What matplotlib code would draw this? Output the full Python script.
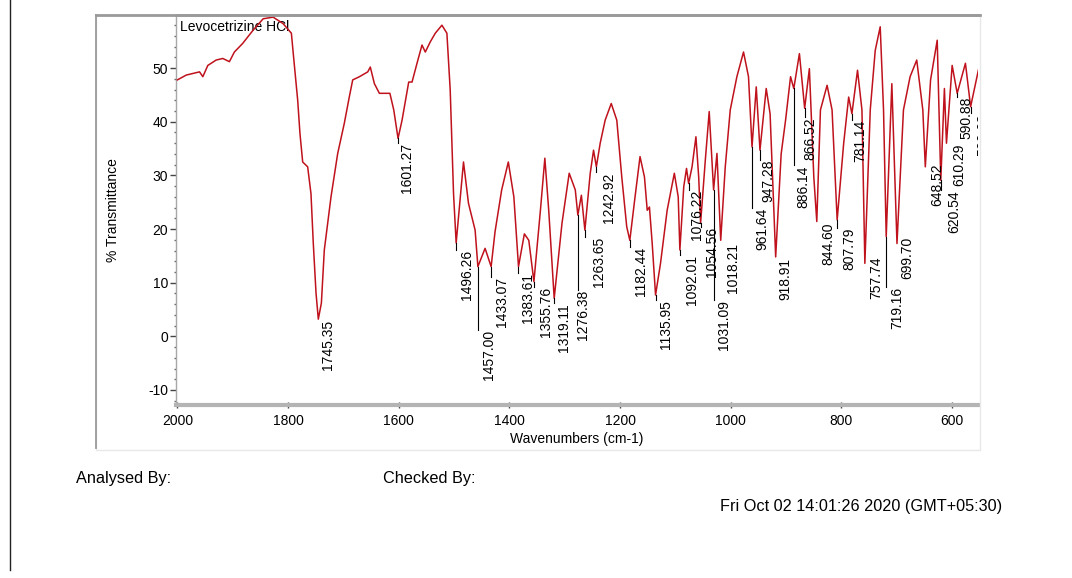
import numpy as np
import matplotlib
matplotlib.use("Agg")
import matplotlib.pyplot as plt
from matplotlib.ticker import MultipleLocator
from matplotlib.lines import Line2D
from matplotlib.patches import Rectangle
from matplotlib.transforms import offset_copy

plt.rcParams['font.family'] = ['Liberation Sans', 'DejaVu Sans']
plt.rcParams['axes.unicode_minus'] = False

# spectrum (cm-1, %T)
wavenumber = [2000, 1984, 1960, 1954, 1945, 1930, 1918, 1906, 1897, 1882, 1863,
              1845, 1827, 1809, 1794, 1790.6, 1782.6, 1778.5, 1773.6, 1764.6,
              1758.6, 1754.4, 1749.5, 1745.35, 1739.8, 1734.5, 1722.4, 1710.3,
              1698.4, 1689.4, 1683.2, 1671, 1656, 1651.4, 1644, 1635, 1616,
              1609, 1601.27, 1594, 1582, 1576, 1567, 1558, 1552, 1543, 1534, 1522,
              1513, 1507, 1501, 1496.26, 1492, 1483, 1474, 1462, 1457.00, 1444,
              1433.07, 1426, 1414, 1402, 1392, 1383.61, 1373, 1365, 1355.76, 1344,
              1336, 1329, 1319.11, 1305, 1292, 1281, 1276.38, 1270, 1263.65, 1254,
              1248, 1242.92, 1236, 1227, 1216, 1206, 1197, 1188, 1182.44, 1173,
              1164, 1156, 1151, 1147, 1142, 1135.95, 1127, 1115, 1102, 1095,
              1092.01, 1085, 1080, 1076.22, 1070, 1063, 1058, 1054.56, 1046, 1039,
              1031.09, 1025, 1018.21, 1010, 1001, 989, 977, 968, 961.64, 954,
              947.28, 936, 929, 918.91, 909, 901, 892, 886.14, 876, 866.52, 858,
              850, 844.60, 838, 826, 817, 807.79, 796, 787, 781.14, 771, 763,
              757.74, 748, 739, 730, 724, 719.16, 709, 699.70, 688, 676, 664, 653,
              648.52, 639, 627, 620.54, 614, 610.29, 600, 590.88, 576, 566.63, 550]
transmittance = [47.8, 48.7, 49.3, 48.4, 50.5, 51.5, 51.8, 51.2, 53.0, 54.6, 57.1,
                 59.2, 59.5, 58.3, 56.5, 52.7, 44.0, 37.8, 32.5, 31.6,
                 26.6, 17.3, 8.1, 3.2, 6.2, 16.1, 26.0, 34.1,
                 39.7, 44.6, 47.8, 48.4, 49.3, 50.2, 47.1, 45.3, 45.3,
                 42.2, 36.9, 40.3, 47.4, 47.4, 50.9, 54.3, 53.0, 54.9, 56.5, 58.0,
                 56.5, 45.9, 26.6, 17.4, 22.3, 32.5, 24.8, 19.8, 13.0, 16.4,
                 13.0, 19.5, 27.3, 32.5, 26.0, 13.0, 19.1, 17.9, 10.2, 23.5,
                 33.2, 23.5, 7.1, 21.1, 30.4, 27.3, 22.6, 26.3, 19.8, 30.4,
                 34.7, 31.6, 36.0, 40.3, 43.4, 40.3, 29.7, 20.4, 17.9, 26.0,
                 33.5, 29.7, 23.5, 24.1, 17.3, 7.7, 13.6, 23.5, 30.4, 26.0,
                 16.1, 27.9, 31.3, 28.5, 31.6, 37.2, 29.7, 21.1, 32.9, 41.9,
                 27.3, 34.1, 17.9, 31.6, 42.2, 48.4, 53.0, 48.4, 35.3, 46.5,
                 34.7, 46.2, 41.5, 14.8, 34.0, 40.3, 48.4, 46.2, 52.7, 42.5, 49.9,
                 29.7, 21.4, 42.2, 46.8, 42.2, 21.7, 36.0, 44.6, 41.5, 49.6, 42.2,
                 13.6, 42.2, 53.3, 57.7, 42.2, 18.6, 47.1, 17.3, 42.2, 48.4, 51.5, 42.2,
                 31.6, 47.8, 55.2, 29.1, 46.2, 36.0, 50.5, 45.3, 50.9, 42.8, 50.9]

# peak labels
peak_labels = ["1745.35", "1601.27", "1496.26", "1457.00", "1433.07", "1383.61",
               "1355.76", "1319.11", "1276.38", "1263.65", "1242.92", "1182.44",
               "1135.95", "1092.01", "1076.22", "1054.56", "1031.09", "1018.21",
               "961.64", "947.28", "918.91", "886.14", "866.52", "844.60",
               "807.79", "781.14", "757.74", "719.16", "699.70", "648.52",
               "620.54", "610.29", "590.88", "566.63"]
# where each label text starts (top, in %T) and its sideways shift (px)
label_top = [3.0, 36.0, 16.1, 1.2, 11.0, 11.8, 9.2, 6.2, 8.6, 18.5, 30.6, 16.6,
             6.8, 15.1, 27.3, 20.4, 6.8, 17.4, 23.9, 32.9, 14.6, 31.9, 40.9, 21.3,
             20.2, 40.3, 14.8, 9.2, 18.5, 32.3, 27.3, 36.0, 44.6, 41.6]
label_dx = [10, 9, 11, 11, 11, 9.5, 12, 10, 5, 14, 12.5, 11, 10.5, 12, 8.5, 11.5,
            10.5, 12, 10, 8, 10, 10, 5.5, 12, 12, 8, 11, 11, 10, 11.5, 13, 12.5,
            9, 12.5]

W, H = 1072, 578
fig = plt.figure(figsize=(W / 100, H / 100), dpi=100)
fig.patch.set_facecolor('white')

# outer frame and page edge
fig.add_artist(Rectangle((96 / W, 1 - 450 / H), (980 - 96) / W, (450 - 15) / H,
                         transform=fig.transFigure, fill=False,
                         edgecolor='#e8e8e8', lw=1))
fig.add_artist(Line2D([96 / W, 96 / W], [1 - 15 / H, 1 - 448 / H],
                      transform=fig.transFigure, color='#9a9a9a', lw=1.3))
fig.add_artist(Line2D([96 / W, 980 / W], [1 - 15 / H, 1 - 15 / H],
                      transform=fig.transFigure, color='#9a9a9a', lw=2))
fig.add_artist(Line2D([10 / W, 10 / W], [1, 1 - 570 / H],
                      transform=fig.transFigure, color='#222222', lw=1))

ax = fig.add_axes([176 / W, 1 - 405 / H, (978 - 176) / W, (405 - 15) / H])
ax.plot(wavenumber, transmittance, color='#bf121c', lw=1.1, zorder=3)
ax.set_xlim(2002.5, 553.3)
ax.set_ylim(-12.8, 59.9)

ax.xaxis.set_major_locator(MultipleLocator(200))
ax.xaxis.set_minor_locator(MultipleLocator(50))
ax.yaxis.set_major_locator(MultipleLocator(10))
ax.yaxis.set_minor_locator(MultipleLocator(2))
ax.tick_params(axis='y', which='major', direction='out', length=4, width=1,
               color='#444444', labelsize=10, pad=1.5)
ax.tick_params(axis='y', which='minor', direction='out', length=1.5, width=1,
               color='#666666')
ax.tick_params(axis='x', which='major', direction='inout', length=5, width=1,
               color='#444444', labelsize=10, pad=4)
ax.tick_params(axis='x', which='minor', direction='inout', length=1.5, width=1.2,
               color='#555555')

ax.spines['right'].set_visible(False)
ax.spines['top'].set_color('#9a9a9a')
ax.spines['top'].set_linewidth(2)
ax.spines['bottom'].set_color('#b4b4b4')
ax.spines['bottom'].set_linewidth(3)
ax.spines['left'].set_color('#a8a8a8')
ax.spines['left'].set_linewidth(1)

ax.set_ylabel('% Transmittance', fontsize=10)
ax.yaxis.set_label_coords(-0.07, 0.5)
ax.set_xlabel('Wavenumbers (cm-1)', fontsize=10)
ax.xaxis.set_label_coords(0.5, -0.07)

ax.text(0.005, 0.988, 'Levocetrizine HCl', transform=ax.transAxes,
        ha='left', va='top', fontsize=10, zorder=2)

wn_rev = np.array(wavenumber[::-1], dtype=float)
t_rev = np.array(transmittance[::-1], dtype=float)
for lab, top, dx in zip(peak_labels, label_top, label_dx):
    wn = float(lab)
    t = np.interp(wn, wn_rev, t_rev)
    if t - top > 0.6:
        ax.plot([wn, wn], [t, top], color='black', lw=0.8, zorder=4)
    tr = offset_copy(ax.transData, fig=fig, x=dx, y=0, units='dots')
    ax.text(wn, top, lab, transform=tr, rotation=90, ha='center', va='top',
            fontsize=10, clip_on=True, zorder=5)

fig.text(76 / W, 1 - 478 / H, 'Analysed By:', va='center', fontsize=11.7)
fig.text(383 / W, 1 - 478 / H, 'Checked By:', va='center', fontsize=11.7)
fig.text(720 / W, 1 - 507 / H, 'Fri Oct 02 14:01:26 2020 (GMT+05:30)',
         va='center', fontsize=11.7)

fig.savefig('out.png', dpi=100)
